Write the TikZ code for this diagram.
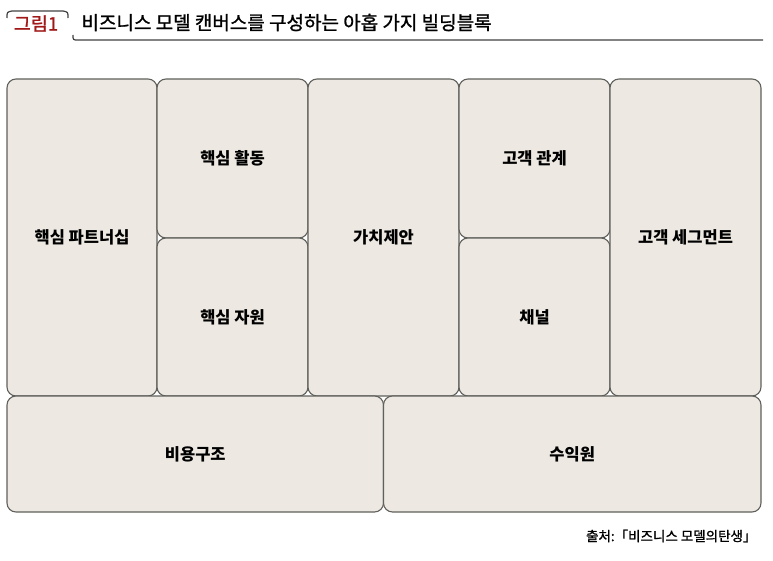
\documentclass[tikz,border=0pt]{standalone}
\usepackage{fontspec}
\setmainfont{Noto Sans CJK KR}
\newfontfamily\headfont[FakeBold=1.2]{Noto Sans CJK KR}
\usepackage{tikz}
\usetikzlibrary{positioning}
\definecolor{blockfill}{RGB}{237,233,226}
\definecolor{blockline}{RGB}{96,96,92}
\definecolor{figred}{RGB}{160,24,24}
\begin{document}
\begin{tikzpicture}[x=1pt, y=-1pt]
\tikzstyle{block}=[rectangle, rounded corners=9pt, fill=blockfill, draw=blockline, line width=1.1pt, font=\fontsize{16.5}{18}\bfseries\selectfont, inner sep=0pt]
\tikzstyle{bracket}=[line width=1.2pt, draw=black!75]
\useasboundingbox (0,0) rectangle (773,561);
\node[text=figred, font=\fontsize{18.5}{20}\headfont] (fignum) at (36, 23.5) {그림1};
\node[anchor=west, font=\fontsize{19}{21}\headfont] (title) at (78, 22.5) {비즈니스 모델 캔버스를 구성하는 아홉 가지 빌딩블록};
\draw[bracket] (7,18) .. controls (7,12) .. (12,11) -- (63,11) .. controls (68,12) .. (68,18);
\draw[bracket] (73,35) .. controls (73,40) .. (78,40) -- (763,40);
\node[block, minimum width=150pt, minimum height=317pt] (partners) at (82, 237.5) {핵심 파트너십};
\node[block, minimum width=151pt, minimum height=159pt] (activities) at (232.5, 158.5) {핵심 활동};
\node[block, minimum width=151pt, minimum height=158pt] (resources) at (232.5, 317) {핵심 자원};
\node[block, minimum width=151pt, minimum height=317pt] (value) at (383.5, 237.5) {가치제안};
\node[block, minimum width=151pt, minimum height=159pt] (relations) at (534.5, 158.5) {고객 관계};
\node[block, minimum width=151pt, minimum height=158pt] (channels) at (534.5, 317) {채널};
\node[block, minimum width=151pt, minimum height=317pt] (segments) at (685.5, 237.5) {고객 세그먼트};
\node[block, minimum width=376.5pt, minimum height=116pt] (cost) at (195.25, 454) {비용구조};
\node[block, minimum width=377.5pt, minimum height=116pt] (revenue) at (572.25, 454) {수익원};
\node[anchor=east, font=\fontsize{13.5}{15}\headfont] (source) at (760, 536) {출처:「비즈니스 모델의탄생」};
\end{tikzpicture}
\end{document}
